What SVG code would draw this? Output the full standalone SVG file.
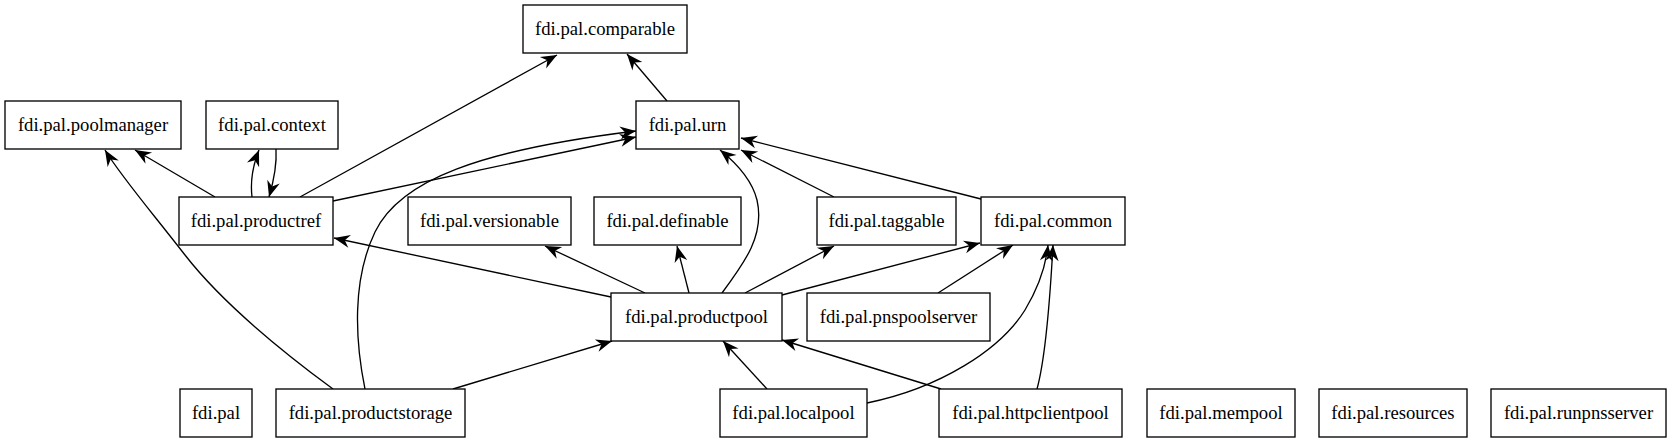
<svg xmlns="http://www.w3.org/2000/svg" width="1671" height="443" viewBox="0 0 1671 443">
<style>
.n rect{fill:#fff;stroke:#000;stroke-width:1.33}
.n text{font-family:'Liberation Serif',Tinos,'Times New Roman','DejaVu Serif',serif;font-size:18.67px;text-anchor:middle;fill:#000}
.e path{fill:none;stroke:#000;stroke-width:1.33;marker-end:url(#a)}
</style>
<defs>
<marker id="a" markerUnits="userSpaceOnUse" markerWidth="19" markerHeight="16" viewBox="-18 -8 19 16" refX="0" refY="0" orient="auto">
<path d="M0,0 L-16,-6.5 L-11,0 L-16,6.5 Z" fill="#000"/>
</marker>
</defs>
<rect width="1671" height="443" fill="#fff"/>
<g class="e" id="edges">
<path d="M300,197 L557,55"/>
<path d="M667,101 L627,54"/>
<path d="M215,197 L135,150"/>
<path d="M252,197 C250,180 253,165 259,150"/>
<path d="M276,149 C277,165 274,180 269,197"/>
<path d="M333,201 L636,137"/>
<path d="M365,389 C355,340 352,280 375,232 C400,180 480,150 636,131"/>
<path d="M333,389 C280,350 220,300 185,255 C150,210 120,175 105,150"/>
<path d="M453,389 L612,341"/>
<path d="M611,297 L334,238"/>
<path d="M645,293 L545,246"/>
<path d="M689,293 L677,246"/>
<path d="M722,293 C745,262 765,235 757,200 C752,180 735,162 720,150"/>
<path d="M745,293 L834,246"/>
<path d="M782,295 L980,243"/>
<path d="M834,197 L741,150"/>
<path d="M981,199 L741,138"/>
<path d="M938,293 L1013,245"/>
<path d="M767,389 L723,341"/>
<path d="M867,403 C940,388 1000,350 1025,310 C1040,285 1046,265 1048,245"/>
<path d="M941,389 L782,340"/>
<path d="M1037,389 C1045,360 1050,300 1053,245"/>
</g>
<g class="n" id="comparable"><rect x="523" y="5" width="164" height="48"/><text x="605" y="35">fdi.pal.comparable</text></g>
<g class="n" id="poolmanager"><rect x="5" y="101" width="176" height="48"/><text x="93" y="131">fdi.pal.poolmanager</text></g>
<g class="n" id="context"><rect x="206" y="101" width="132" height="48"/><text x="272" y="131">fdi.pal.context</text></g>
<g class="n" id="urn"><rect x="636" y="101" width="103" height="48"/><text x="687.5" y="131">fdi.pal.urn</text></g>
<g class="n" id="productref"><rect x="179" y="197" width="154" height="48"/><text x="256" y="227">fdi.pal.productref</text></g>
<g class="n" id="versionable"><rect x="408" y="197" width="163" height="48"/><text x="489.5" y="227">fdi.pal.versionable</text></g>
<g class="n" id="definable"><rect x="594" y="197" width="147" height="48"/><text x="667.5" y="227">fdi.pal.definable</text></g>
<g class="n" id="taggable"><rect x="817" y="197" width="139" height="48"/><text x="886.5" y="227">fdi.pal.taggable</text></g>
<g class="n" id="common"><rect x="981" y="197" width="144" height="48"/><text x="1053" y="227">fdi.pal.common</text></g>
<g class="n" id="productpool"><rect x="611" y="293" width="171" height="48"/><text x="696.5" y="323">fdi.pal.productpool</text></g>
<g class="n" id="pnspoolserver"><rect x="807" y="293" width="183" height="48"/><text x="898.5" y="323">fdi.pal.pnspoolserver</text></g>
<g class="n" id="fdipal"><rect x="180" y="389" width="72" height="48"/><text x="216" y="419">fdi.pal</text></g>
<g class="n" id="productstorage"><rect x="276" y="389" width="189" height="48"/><text x="370.5" y="419">fdi.pal.productstorage</text></g>
<g class="n" id="localpool"><rect x="720" y="389" width="147" height="48"/><text x="793.5" y="419">fdi.pal.localpool</text></g>
<g class="n" id="httpclientpool"><rect x="939" y="389" width="183" height="48"/><text x="1030.5" y="419">fdi.pal.httpclientpool</text></g>
<g class="n" id="mempool"><rect x="1147" y="389" width="148" height="48"/><text x="1221" y="419">fdi.pal.mempool</text></g>
<g class="n" id="resources"><rect x="1319" y="389" width="148" height="48"/><text x="1393" y="419">fdi.pal.resources</text></g>
<g class="n" id="runpnsserver"><rect x="1491" y="389" width="175" height="48"/><text x="1578.5" y="419">fdi.pal.runpnsserver</text></g>
</svg>
